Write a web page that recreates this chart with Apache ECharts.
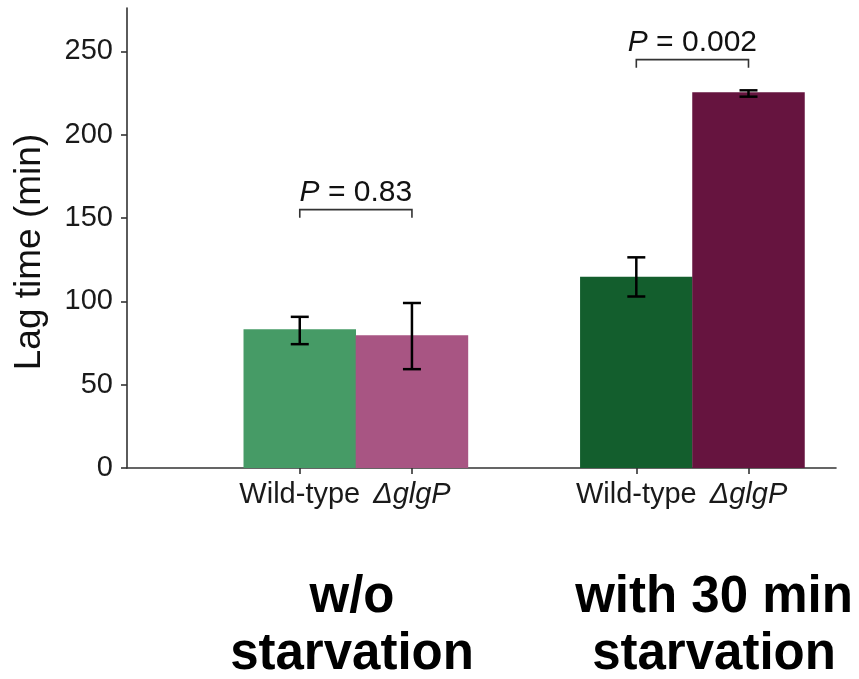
<!DOCTYPE html>
<html>
<head>
<meta charset="utf-8">
<title>Lag time</title>
<script src="https://cdn.jsdelivr.net/npm/echarts@6/dist/echarts.min.js"></script>
<style>
  html, body { margin: 0; padding: 0; background: #fff; }
  #chart { width: 859px; height: 679px; }
</style>
</head>
<body>
<div id="chart"></div>
<script>
// data
const conditions = ['w/o\nstarvation', 'with 30 min\nstarvation']
const strains = ['Wild-type', 'ΔglgP']
const wildTypeLag = [83.3, 114.7]
const wildTypeLow = [74.3, 102.9]
const wildTypeHigh = [90.7, 126.4]
const glgPLag = [79.6, 225.5]
const glgPLow = [59.3, 222.8]
const glgPHigh = [99.0, 226.6]
const pValues = ['0.83', '0.002']
const bracketLevel = [155, 245]
const yTicks = [0, 50, 100, 150, 200, 250]

const barColors = [
  ['#469b66', '#a85583'],
  ['#135e2d', '#66143f']
]
const fontFamily = '"Liberation Sans", Arial, sans-serif'

// each condition is a group of two bars, with one empty slot between groups
const slot = (g, s) => g * 3 + s + 1
const tickPos = []
const tickText = {}
const barData = []
const errData = []
const bracketData = []

conditions.forEach((c, g) => {
  const means = [wildTypeLag[g], glgPLag[g]]
  const lows = [wildTypeLow[g], glgPLow[g]]
  const highs = [wildTypeHigh[g], glgPHigh[g]]
  strains.forEach((s, i) => {
    const x = slot(g, i)
    tickPos.push(x)
    tickText[x] = s
    barData.push({ value: [x, means[i]], itemStyle: { color: barColors[g][i] } })
    errData.push([x, lows[i], highs[i]])
  })
  bracketData.push([slot(g, 0), slot(g, 1), bracketLevel[g], g])
})

const chart = echarts.init(document.getElementById('chart'))

const renderErr = (params, api) => {
  const x = api.value(0)
  const top = api.coord([x, api.value(2)])
  const bot = api.coord([x, api.value(1)])
  const hw = 9
  const style = { stroke: '#000', lineWidth: 2.5 }
  return {
    type: 'group',
    children: [
      { type: 'line', shape: { x1: top[0], y1: top[1], x2: bot[0], y2: bot[1] }, style },
      { type: 'line', shape: { x1: top[0] - hw, y1: top[1], x2: top[0] + hw, y2: top[1] }, style },
      { type: 'line', shape: { x1: bot[0] - hw, y1: bot[1], x2: bot[0] + hw, y2: bot[1] }, style }
    ]
  }
}

const renderBracket = (params, api) => {
  const y = api.value(2)
  const a = api.coord([api.value(0), y])
  const b = api.coord([api.value(1), y])
  const drop = 8
  const style = { stroke: '#333', lineWidth: 1.6, fill: null }
  return {
    type: 'group',
    children: [
      {
        type: 'polyline',
        shape: { points: [[a[0], a[1] + drop], [a[0], a[1]], [b[0], b[1]], [b[0], b[1] + drop]] },
        style
      },
      {
        type: 'text',
        x: (a[0] + b[0]) / 2,
        y: a[1] - 17,
        style: {
          text: '{i|P} = ' + pValues[api.value(3)],
          align: 'center',
          verticalAlign: 'middle',
          fill: '#111',
          font: '30px ' + fontFamily,
          rich: {
            i: { fontStyle: 'italic', fontSize: 30, fontFamily: fontFamily, fill: '#111' }
          }
        }
      }
    ]
  }
}

const option = {
  animation: false,
  textStyle: { fontFamily: fontFamily },
  grid: { left: 127, right: 23, top: 8, bottom: 211 },
  xAxis: {
    type: 'value',
    min: -0.54,
    max: 5.78,
    splitLine: { show: false },
    axisLine: { onZero: false, lineStyle: { color: '#333', width: 1.6 } },
    axisTick: { show: true, length: 6, customValues: tickPos, lineStyle: { color: '#333', width: 1.6 } },
    axisLabel: {
      customValues: tickPos,
      margin: 12,
      formatter: (v) => tickText[v] === 'ΔglgP' ? '{d|Δ}{i|glgP}' : '{n|' + (tickText[v] || '') + '}',
      rich: {
        n: { fontSize: 29, color: '#1a1a1a', fontFamily: fontFamily },
        d: { fontSize: 29, color: '#1a1a1a', fontFamily: fontFamily, fontStyle: 'italic' },
        i: { fontSize: 29, color: '#1a1a1a', fontFamily: fontFamily, fontStyle: 'italic' }
      }
    }
  },
  yAxis: {
    type: 'value',
    min: 0,
    max: 276,
    splitLine: { show: false },
    axisLine: { show: true, onZero: false, lineStyle: { color: '#333', width: 1.6 } },
    axisTick: { show: true, length: 6, customValues: yTicks, lineStyle: { color: '#333', width: 1.6 } },
    axisLabel: {
      customValues: yTicks,
      margin: 14,
      fontSize: 29,
      color: '#1a1a1a',
      fontFamily: fontFamily
    }
  },
  graphic: [
    {
      type: 'text',
      x: 30,
      y: 252,
      rotation: Math.PI / 2,
      style: {
        text: 'Lag time (min)',
        align: 'center',
        verticalAlign: 'middle',
        fill: '#111',
        font: '37px ' + fontFamily
      }
    },
    {
      type: 'text',
      x: 352,
      y: 569,
      style: {
        text: conditions[0],
        align: 'center',
        verticalAlign: 'top',
        lineHeight: 57,
        fill: '#000',
        font: 'bold 51px ' + fontFamily
      }
    },
    {
      type: 'text',
      x: 714,
      y: 569,
      style: {
        text: conditions[1],
        align: 'center',
        verticalAlign: 'top',
        lineHeight: 57,
        fill: '#000',
        font: 'bold 51px ' + fontFamily
      }
    }
  ],
  series: [
    {
      type: 'bar',
      barWidth: 112.5,
      data: barData
    },
    {
      type: 'custom',
      renderItem: renderErr,
      encode: { x: 0, y: [1, 2] },
      data: errData,
      z: 3
    },
    {
      type: 'custom',
      renderItem: renderBracket,
      encode: { x: [0, 1], y: 2 },
      data: bracketData,
      z: 3
    }
  ]
}

chart.setOption(option)
</script>
</body>
</html>
